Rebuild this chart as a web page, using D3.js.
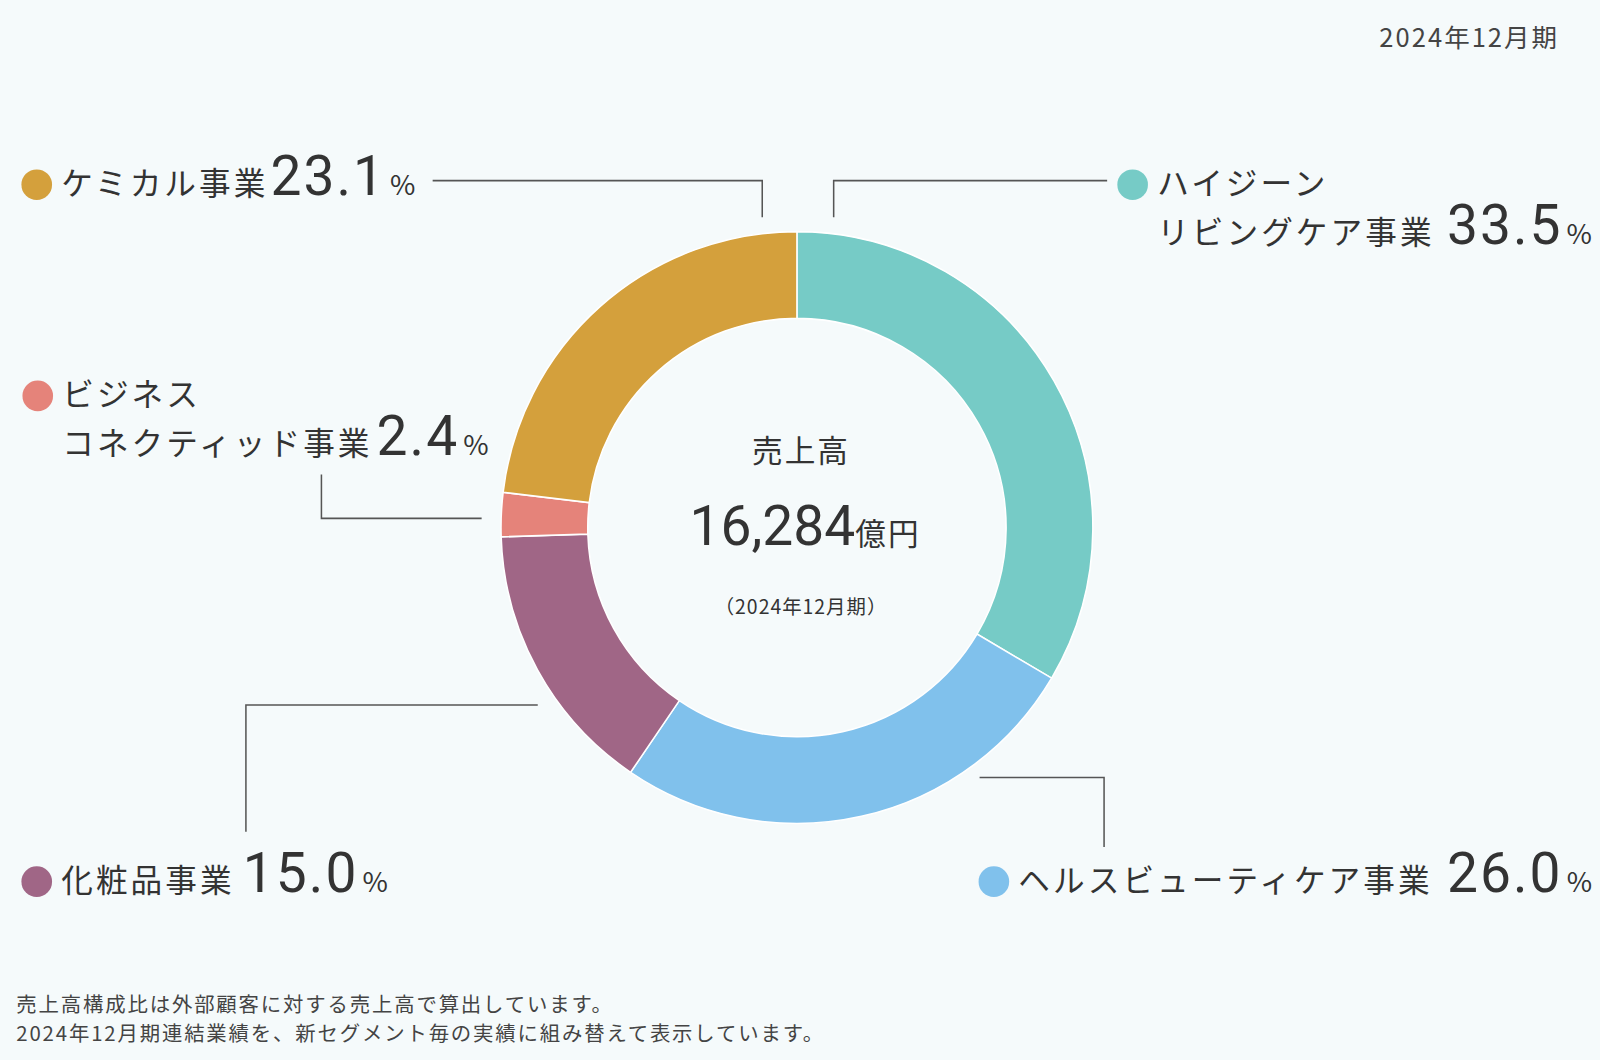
<!DOCTYPE html>
<html><head><meta charset="utf-8">
<script src="https://cdn.jsdelivr.net/npm/d3@7"></script>
<style>body{margin:0;background:#f5fafb;font-family:"Noto Sans CJK JP","Noto Sans",sans-serif;}</style>
</head><body><svg id="c" width="1600" height="1060"></svg>
<script>
const segments = ["ハイジーンリビングケア事業", "ヘルスビューティケア事業", "化粧品事業", "ビジネスコネクティッド事業", "ケミカル事業"];
const shares = [33.5, 26.0, 15.0, 2.4, 23.1];
const colors = ["#76cbc6", "#80c1ec", "#a06686", "#e5837a", "#d4a03c"];

const root = d3.select("#c").append("g").attr("transform", "scale(1.0204)");
const svg = root;
const cx = 781, cy = 517;
const pie = d3.pie().sort(null).value(d => d)(shares);
const arc = d3.arc().innerRadius(205).outerRadius(290);
const g = svg.append("g").attr("transform", `translate(${cx},${cy})`);
g.selectAll("path").data(pie).join("path")
  .attr("d", arc).attr("fill", (d, i) => colors[i])
  .attr("stroke", "#fff").attr("stroke-width", 1.5);

const txt = (x, y, s, size, anchor = "start", fill = "#333", ls = 0) =>
  svg.append("text").attr("x", x).attr("y", y).attr("font-size", size)
    .attr("text-anchor", anchor).attr("fill", fill).attr("letter-spacing", ls).text(s);

// center
txt(cx + 4, 453, "売上高", 30, "middle", "#333", 2);
const t = svg.append("text").attr("x", cx + 8).attr("y", 534).attr("text-anchor", "middle").attr("fill", "#333");
t.append("tspan").attr("font-size", 54).attr("font-family", "Roboto, sans-serif").text("16,284");
t.append("tspan").attr("font-size", 30).attr("letter-spacing", 2).text("億円");
txt(cx + 4, 602, "（2024年12月期）", 19, "middle", "#333", 1);

txt(1528, 46, "2024年12月期", 25, "end", "#444", 2);

const lines = [
  [[424,177],[747,177],[747,213]],
  [[817,213],[817,177],[1085,177]],
  [[472,508],[315,508],[315,465]],
  [[527,691],[241,691],[241,815]],
  [[960,762],[1082,762],[1082,830]]
];
lines.forEach(p => svg.append("path").attr("d", d3.line()(p)).attr("fill", "none").attr("stroke", "#555").attr("stroke-width", 1.5));

function label(x, y, dotColor, name, pct, line1, gap) {
  svg.append("circle").attr("cx", x).attr("cy", y - 10).attr("r", 15).attr("fill", dotColor);
  let nx = x + 24;
  if (line1) { txt(nx, y - 0, line1, 31, "start", "#333", 3); y += 48; }
  const tt = svg.append("text").attr("x", nx).attr("y", y).attr("fill", "#333");
  tt.append("tspan").attr("font-size", 31).attr("letter-spacing", 3).text(name);
  tt.append("tspan").attr("font-size", 54).attr("letter-spacing", 2).attr("font-family", "Roboto, sans-serif").attr("dx", gap).text(pct.toFixed(1));
  tt.append("tspan").attr("font-size", 27).attr("dx", 4).text("%");
}
label(36, 191, colors[4], "ケミカル事業", shares[4], null, 2);
label(1110, 191, colors[0], "リビングケア事業", shares[0], "ハイジーン", 12);
label(37, 398, colors[3], "コネクティッド事業", shares[3], "ビジネス", 4);
label(36, 874, colors[2], "化粧品事業", shares[2], null, 8);
label(974, 874, colors[1], "ヘルスビューティケア事業", shares[1], null, 14);

txt(16, 992, "売上高構成比は外部顧客に対する売上高で算出しています。", 20, "start", "#444", 1.8);
txt(16, 1020, "2024年12月期連結業績を、新セグメント毎の実績に組み替えて表示しています。", 20, "start", "#444", 1.8);
</script></body></html>
